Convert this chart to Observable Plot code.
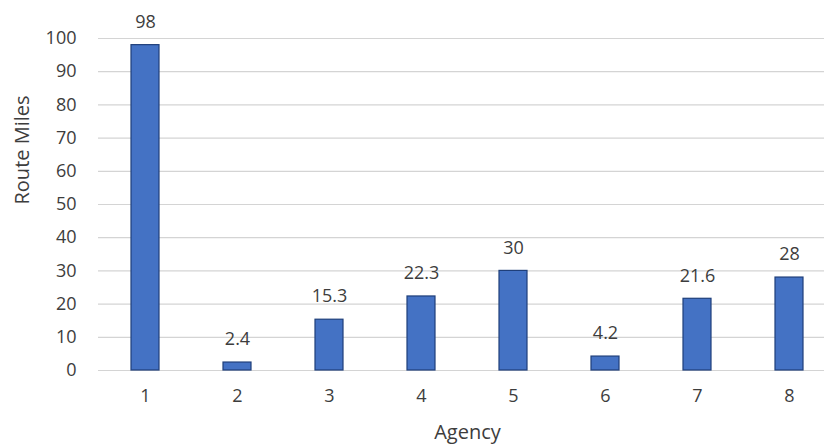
<!DOCTYPE html>
<html>
<head>
<meta charset="utf-8">
<script src="https://cdn.jsdelivr.net/npm/d3@7"></script>
<script src="https://cdn.jsdelivr.net/npm/@observablehq/plot@0.6"></script>
<style>
  html, body { margin: 0; padding: 0; background: #fff; overflow: hidden; }
  #chart { width: 824px; height: 447px; overflow: hidden; }
</style>
</head>
<body>
<div id="chart"></div>
<script>
const agencies = ["1", "2", "3", "4", "5", "6", "7", "8"];
const routeMiles = [98, 2.4, 15.3, 22.3, 30, 4.2, 21.6, 28];
const labels = ["98", "2.4", "15.3", "22.3", "30", "4.2", "21.6", "28"];
const yTicks = [0, 10, 20, 30, 40, 50, 60, 70, 80, 90, 100];

const data = agencies.map((a, i) => ({agency: a, miles: routeMiles[i], label: labels[i]}));

const font = "'Open Sans', 'Noto Sans', sans-serif";
const textColor = "#3d3d3d";

const chart = Plot.plot({
  width: 824,
  height: 447,
  marginLeft: 98,
  marginRight: -12,
  marginTop: 38,
  marginBottom: 77,
  style: {fontFamily: font, fontSize: "18px", color: textColor, background: "#fff", overflow: "hidden"},
  x: {domain: agencies, paddingInner: 0.7, paddingOuter: 0.35, label: null},
  y: {domain: [0, 100], label: null},
  marks: [
    Plot.gridY(yTicks, {stroke: "#d4d4d4", strokeOpacity: 1, strokeWidth: 1.2}),
    Plot.axisY(yTicks, {tickSize: 0, tickPadding: 22, fontSize: 18, fill: textColor}),
    Plot.axisX({tickSize: 0, tickPadding: 19, fontSize: 18, fill: textColor}),
    Plot.barY(data, {x: "agency", y: "miles", fill: "#4472C4", stroke: "#1F3F7A", strokeWidth: 1.2}),
    Plot.text(data, {x: "agency", y: "miles", text: "label", dy: -23, fontSize: 18, fill: textColor}),
    Plot.text(["Route Miles"], {frameAnchor: "left", rotate: -90, dx: -76, fontSize: 20, fill: textColor}),
    Plot.text(["Agency"], {frameAnchor: "bottom", lineAnchor: "middle", dy: 62, fontSize: 20, fill: textColor})
  ]
});

document.getElementById("chart").appendChild(chart);
</script>
</body>
</html>
